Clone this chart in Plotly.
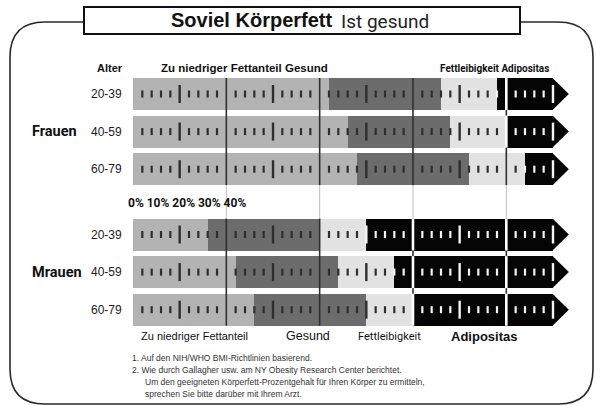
import plotly.graph_objects as go

# ---------------- data ----------------
AGE_GROUPS = ["20-39", "40-59", "60-79"]
GROUPS = ["Frauen", "Mrauen"]

# body-fat % thresholds (start of each zone)
WOMEN_HEALTHY_START = [21, 23, 24]
WOMEN_OVERFAT_START = [33, 34, 36]
WOMEN_OBESE_START = [39, 40, 42]
MEN_HEALTHY_START = [8, 11, 13]
MEN_OVERFAT_START = [20, 22, 25]
MEN_OBESE_START = [25, 28, 30]
SCALE_END = 45          # end of the drawn scale (%)
ARROW_TIP = 46.7        # arrow tip (%)
MAJOR_TICKS = [10, 20, 30, 40]
AXIS_LABEL = "0% 10% 20% 30% 40%"

ZONE_NAMES = ["Zu niedriger Fettanteil", "Gesund", "Fettleibigkeit", "Adipositas"]
FOOTNOTES = [
    "1. Auf den NIH/WHO BMI-Richtlinien basierend.",
    "2. Wie durch Gallagher usw. am NY Obesity Research Center berichtet.",
    "Um den geeigneten Körperfett-Prozentgehalt für Ihren Körper zu ermitteln,",
    "sprechen Sie bitte darüber mit Ihrem Arzt.",
]

# ---------------- layout helpers ----------------
W, H = 596, 406
PX0, PX_PER = 133.0, 9.333          # pixel of 0 %, pixels per 1 %


def X(px):
    return (px - PX0) / PX_PER


GROUP_Y0 = [94.0, 234.5]
ROW_STEP = 37.6
BAR_H = 32

ZONE_COLORS = ["#b3b3b3", "#6c6c6c", "#e2e2e2", "#050505"]

rows = []  # (group, index, y, [zone boundaries])
for g, (hs, os_, ob) in enumerate([
    (WOMEN_HEALTHY_START, WOMEN_OVERFAT_START, WOMEN_OBESE_START),
    (MEN_HEALTHY_START, MEN_OVERFAT_START, MEN_OBESE_START),
]):
    for i in range(3):
        y = GROUP_Y0[g] + i * ROW_STEP
        rows.append((g, i, y, [0, hs[i], os_[i], ob[i], SCALE_END]))

fig = go.Figure()

# zone bars
for z in range(4):
    ys, bases, lens = [], [], []
    for g, i, y, b in rows:
        ys.append(y)
        bases.append(b[z])
        lens.append(b[z + 1] - b[z])
    fig.add_trace(go.Bar(orientation="h", y=ys, x=lens, base=bases, width=BAR_H,
                         marker=dict(color=ZONE_COLORS[z], line=dict(width=0)),
                         hoverinfo="skip"))

# arrows
for g, i, y, b in rows:
    fig.add_trace(go.Scatter(x=[SCALE_END - 0.05, ARROW_TIP, SCALE_END - 0.05, SCALE_END - 0.05],
                             y=[y - BAR_H / 2, y, y + BAR_H / 2, y - BAR_H / 2],
                             mode="lines", fill="toself", fillcolor=ZONE_COLORS[3],
                             line=dict(width=0, color=ZONE_COLORS[3]), hoverinfo="skip"))


def zone_of(b, t):
    for z in range(4):
        if b[z] <= t < b[z + 1]:
            return z
    return 3


# major lines: dark through each group, faint through the group gap
for t in MAJOR_TICKS:
    xs, ysl = [], []
    for g in range(2):
        top = GROUP_Y0[g] - BAR_H / 2
        bot = GROUP_Y0[g] + 2 * ROW_STEP + BAR_H / 2
        xs += [t, t, None]
        ysl += [top, bot, None]
    fig.add_trace(go.Scatter(x=xs, y=ysl, mode="lines", line=dict(color="#303030", width=1.6),
                             hoverinfo="skip"))
    gap_top = GROUP_Y0[0] + 2 * ROW_STEP + BAR_H / 2
    gap_bot = GROUP_Y0[1] - BAR_H / 2
    fig.add_trace(go.Scatter(x=[t, t], y=[gap_top, gap_bot], mode="lines",
                             line=dict(color="#c0c0c0", width=1), hoverinfo="skip"))

# minor and mid ticks
small = {"dark": ([], []), "white": ([], [])}
mid = {"dark": ([], []), "white": ([], [])}
white_major = ([], [])
for g, i, y, b in rows:
    for t in range(1, SCALE_END + 1):
        z = zone_of(b, t)
        key = "white" if z == 3 else "dark"
        if t % 10 == 0:
            if z == 3:
                white_major[0].extend([t, t, None])
                white_major[1].extend([y - BAR_H / 2, y + BAR_H / 2, None])
            continue
        if t % 5 == 0:
            mid[key][0].extend([t, t, None])
            mid[key][1].extend([y - 9, y + 9, None])
        else:
            small[key][0].extend([t, t, None])
            small[key][1].extend([y - 3.5, y + 3.5, None])

for key, col in [("dark", "#2e2e2e"), ("white", "#f4f4f4")]:
    fig.add_trace(go.Scatter(x=small[key][0], y=small[key][1], mode="lines",
                             line=dict(color=col, width=2.2), hoverinfo="skip"))
    fig.add_trace(go.Scatter(x=mid[key][0], y=mid[key][1], mode="lines",
                             line=dict(color=col, width=2.4), hoverinfo="skip"))
fig.add_trace(go.Scatter(x=white_major[0], y=white_major[1], mode="lines",
                         line=dict(color="#ffffff", width=2.6), hoverinfo="skip"))

# ---------------- frame & title box ----------------
L, R, T, B, RAD = 10, 593, 22, 404, 35
path = (f"M {X(84)},{T} L {X(L + RAD)},{T} Q {X(L)},{T} {X(L)},{T + RAD} "
        f"L {X(L)},{B - RAD} Q {X(L)},{B} {X(L + RAD)},{B} "
        f"L {X(R - RAD)},{B} Q {X(R)},{B} {X(R)},{B - RAD} "
        f"L {X(R)},{T + RAD} Q {X(R)},{T} {X(R - RAD)},{T} L {X(520)},{T}")
shapes = [
    dict(type="path", path=path, xref="x", yref="y", line=dict(color="#2a2a2a", width=1.6)),
    dict(type="rect", x0=X(84), x1=X(520), y0=7, y1=34, xref="x", yref="y",
         line=dict(color="#111111", width=2), fillcolor="white"),
]

SANS = "Liberation Sans, Arial, sans-serif"
NARROW = "Roboto, Liberation Sans, sans-serif"
ann = []


def text(px, py, s, size, family=SANS, anchor="center", color="#111111"):
    ann.append(dict(x=X(px), y=py, xref="x", yref="y", text=s, showarrow=False,
                    xanchor=anchor, yanchor="middle",
                    font=dict(size=size, family=family, color=color)))


text(334, 20, "<b>Soviel Körperfett</b>", 20, SANS, "right")
text(339, 21, "Ist gesund", 19, NARROW, "left", "#222222")

text(110, 68, "<b>Alter</b>", 11, SANS)
text(159, 68, "<b>" + ZONE_NAMES[0] + " " + ZONE_NAMES[1] + "</b>", 11.5, SANS, "left")
text(438, 68, "<b>" + ZONE_NAMES[2] + " " + ZONE_NAMES[3] + "</b>", 10, NARROW, "left")

for g, i, y, b in rows:
    text(124, y, AGE_GROUPS[i], 12, SANS, "right", "#1a1a1a")
for g in range(2):
    text(30, GROUP_Y0[g] + ROW_STEP, "<b>" + GROUPS[g] + "</b>", 14.5, NARROW, "left")

text(126, 203, "<b>" + AXIS_LABEL + "</b>", 12, NARROW, "left")

text(194, 336, ZONE_NAMES[0], 11, SANS)
text(308, 336, ZONE_NAMES[1], 12.5, SANS)
text(389, 336, ZONE_NAMES[2], 11, NARROW)
text(484, 336, "<b>" + ZONE_NAMES[3] + "</b>", 13, SANS)

text(130, 358, FOOTNOTES[0], 8.5, SANS, "left", "#333333")
text(130, 370, FOOTNOTES[1], 8.5, SANS, "left", "#333333")
text(143, 382, FOOTNOTES[2], 8.5, SANS, "left", "#333333")
text(143, 394, FOOTNOTES[3], 8.5, SANS, "left", "#333333")

fig.update_layout(
    width=W, height=H, margin=dict(l=0, r=0, t=0, b=0, pad=0),
    paper_bgcolor="white", plot_bgcolor="white", showlegend=False,
    barmode="overlay", bargap=0,
    xaxis=dict(range=[X(0), X(W)], visible=False, fixedrange=True),
    yaxis=dict(range=[H, 0], visible=False, fixedrange=True),
    shapes=shapes, annotations=ann,
)

fig.write_html("out.html", config={"displayModeBar": False},
               post_script="document.body.style.margin='0';document.body.style.overflow='hidden';")
